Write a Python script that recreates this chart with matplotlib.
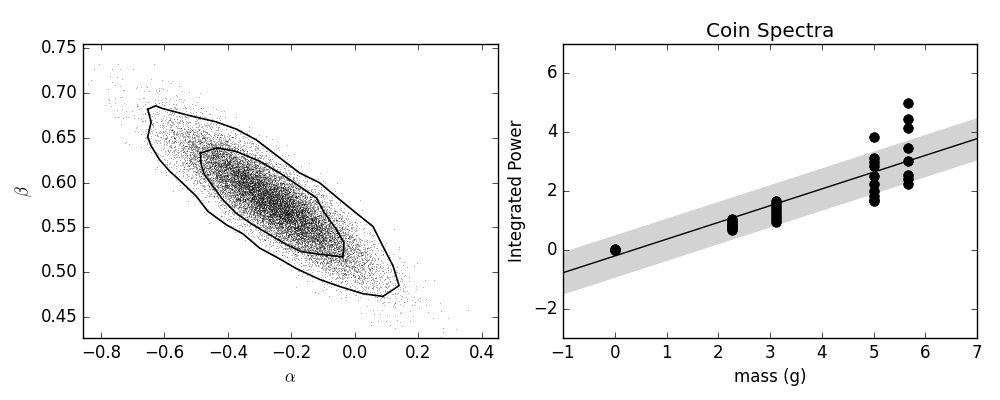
import numpy as np
import matplotlib
matplotlib.use("Agg")
import matplotlib.pyplot as plt

# ---- left panel: posterior samples (summary) ----
sample_mean = [-0.262, 0.578]          # (alpha, beta)
sample_std = [0.152, 0.041]
sample_corr = -0.875
n_samples = 20000

# contour polygons (alpha, beta)
outer_alpha = [-0.653, -0.628, -0.607, -0.521, -0.437, -0.374, -0.311, -0.237, -0.174,
               -0.111, -0.047, 0.005, 0.058, 0.089, 0.121, 0.140, 0.119, 0.089, 0.026,
               -0.047, -0.111, -0.184, -0.237, -0.300, -0.353, -0.405, -0.463, -0.500,
               -0.553, -0.584, -0.616, -0.642, -0.653, -0.642, -0.653]
outer_beta = [0.682, 0.686, 0.683, 0.675, 0.668, 0.660, 0.648, 0.628, 0.611,
              0.600, 0.581, 0.566, 0.551, 0.529, 0.507, 0.485, 0.480, 0.473, 0.476,
              0.484, 0.492, 0.504, 0.515, 0.527, 0.543, 0.553, 0.568, 0.585,
              0.603, 0.613, 0.626, 0.641, 0.651, 0.668, 0.682]
inner_alpha = [-0.487, -0.434, -0.374, -0.300, -0.237, -0.174, -0.121, -0.095, -0.058,
               -0.034, -0.037, -0.058, -0.111, -0.168, -0.216, -0.268, -0.321, -0.374,
               -0.416, -0.447, -0.474, -0.484, -0.487]
inner_beta = [0.633, 0.639, 0.635, 0.624, 0.611, 0.596, 0.583, 0.566, 0.548,
              0.533, 0.517, 0.518, 0.520, 0.523, 0.531, 0.542, 0.553, 0.566,
              0.581, 0.596, 0.609, 0.620, 0.633]

# ---- right panel: coin data ----
coin_mass = [0.0, 2.268, 3.11, 5.0, 5.67]
coin_power = [
    [0.0, 0.0, 0.02, -0.02],
    [1.05, 0.98, 0.92, 0.86, 0.80, 0.75, 0.70, 0.67],
    [1.65, 1.55, 1.45, 1.35, 1.25, 1.15, 1.05, 0.95],
    [3.85, 3.12, 3.0, 2.84, 2.5, 2.25, 1.99, 1.82, 1.70, 1.65],
    [4.98, 4.44, 4.14, 3.46, 3.03, 2.55, 2.41, 2.24],
]
fit_slope = 0.57
fit_intercept = -0.21
fit_halfwidth = 0.72
fit_x = [-1.0, 7.0]

plt.style.use("classic")
fig = plt.figure(figsize=(10, 4), dpi=100, facecolor="white")

ax1 = fig.add_axes([0.083, 0.155, 0.415, 0.735])
cov = np.array([[sample_std[0] ** 2, sample_corr * sample_std[0] * sample_std[1]],
                [sample_corr * sample_std[0] * sample_std[1], sample_std[1] ** 2]])
rng = np.random.default_rng(1)
samples = rng.multivariate_normal(sample_mean, cov, size=n_samples)
ax1.plot(samples[:, 0], samples[:, 1], ",k", alpha=0.3)
ax1.plot(outer_alpha, outer_beta, "-k", lw=1.2)
ax1.plot(inner_alpha, inner_beta, "-k", lw=1.2)
ax1.set_xlim(-0.857, 0.452)
ax1.set_ylim(0.4265, 0.755)
ax1.set_xticks([-0.8, -0.6, -0.4, -0.2, 0.0, 0.2, 0.4])
ax1.set_yticks([0.45, 0.50, 0.55, 0.60, 0.65, 0.70, 0.75])
ax1.set_xlabel(r"$\alpha$")
ax1.set_ylabel(r"$\beta$")

ax2 = fig.add_axes([0.563, 0.155, 0.414, 0.735])
xf = np.array(fit_x)
yf = fit_intercept + fit_slope * xf
ax2.fill_between(xf, yf - fit_halfwidth, yf + fit_halfwidth, color="lightgray", lw=0)
ax2.plot(xf, yf, "-k", lw=1)
for m, vals in zip(coin_mass, coin_power):
    ax2.plot([m] * len(vals), vals, "ok", ms=7)
ax2.set_xlim(-1, 7)
ax2.set_ylim(-3, 7)
ax2.set_xlabel("mass (g)")
ax2.set_ylabel("Integrated Power")
ax2.set_title("Coin Spectra")

fig.savefig("out.png", dpi=100, facecolor="white")
